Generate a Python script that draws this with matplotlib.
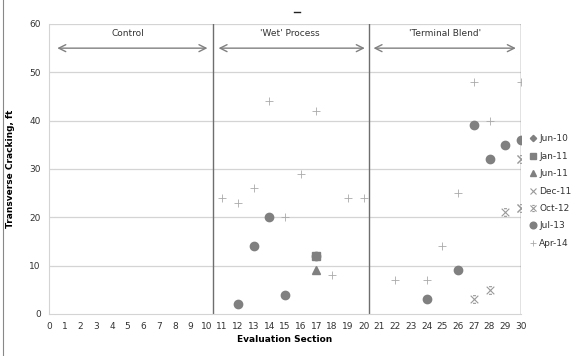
import matplotlib
matplotlib.use('Agg')
import matplotlib.pyplot as plt
from matplotlib.path import Path
from matplotlib.lines import Line2D

# series data (section, cracking ft)
jun10_x, jun10_y = [], []
jan11_x, jan11_y = [17], [12]
jun11_x, jun11_y = [17], [9]
dec11_x, dec11_y = [30, 30], [32, 22]
oct12_x, oct12_y = [29, 27, 28, 30, 30], [21, 3, 5, 32, 22]
jul13_x = [12, 13, 14, 15, 17, 24, 26, 27, 28, 29, 30]
jul13_y = [2, 14, 20, 4, 12, 3, 9, 39, 32, 35, 36]
apr14_x = [11, 12, 13, 14, 15, 16, 17, 18, 19, 20, 22, 24, 25, 26, 27, 28, 30]
apr14_y = [24, 23, 26, 44, 20, 29, 42, 8, 24, 24, 7, 7, 14, 25, 48, 40, 48]

dividers = [10.4, 20.35, 30]
sections = ["Control", "'Wet' Process", "'Terminal Blend'"]
section_spans = [(0.35, 10.25), (10.6, 20.25), (20.45, 29.85)]
section_label_x = [5, 15.3, 25.2]

# x with short bars on top and bottom, like Excel's star marker
star = Path([(-1, -1), (1, 1), (-1, 1), (1, -1), (-0.4, 1), (0.4, 1), (-0.4, -1), (0.4, -1)],
            [Path.MOVETO, Path.LINETO, Path.MOVETO, Path.LINETO,
             Path.MOVETO, Path.LINETO, Path.MOVETO, Path.LINETO])

fig = plt.figure(figsize=(5.81, 3.56), dpi=100)
ax = fig.add_axes([0.0843, 0.118, 0.8124, 0.8146])

for v in range(10, 61, 10):
    ax.axhline(v, color='#d4d4d4', lw=0.9, zorder=0)
for d in dividers:
    ax.axvline(d, color='#6e6e6e', lw=1.0, zorder=1)

for (a, b), name, lx in zip(section_spans, sections, section_label_x):
    ax.annotate('', xy=(a, 55), xytext=(b, 55),
                arrowprops=dict(arrowstyle='<->,head_length=0.5,head_width=0.25',
                                color='#808080', lw=1.0))
    ax.text(lx, 58, name, ha='center', va='center', fontsize=6.5, color='#333333')

g = '#808080'
ax.plot(jun10_x, jun10_y, 'D', ms=4, color=g, ls='none', label='Jun-10')
ax.plot(jan11_x, jan11_y, 's', ms=5.5, color=g, ls='none', label='Jan-11')
ax.plot(jun11_x, jun11_y, '^', ms=5.5, color=g, ls='none', label='Jun-11')
ax.plot(dec11_x, dec11_y, 'x', ms=6, mew=0.8, color='#999999', ls='none', label='Dec-11')
ax.plot(oct12_x, oct12_y, marker=star, ms=5.5, mew=0.8, color='#999999', ls='none', label='Oct-12')
ax.plot(jul13_x, jul13_y, 'o', ms=6, color=g, ls='none', label='Jul-13')
ax.plot(apr14_x, apr14_y, '+', ms=6, mew=0.6, color='#aaaaaa', ls='none', label='Apr-14')

ax.set_xlim(0, 30)
ax.set_ylim(0, 60)
ax.set_xticks(range(0, 31))
ax.set_yticks(range(0, 61, 10))
ax.tick_params(labelsize=6.5, colors='#333333', length=0, pad=6)
for s in ['top', 'right']:
    ax.spines[s].set_visible(False)
ax.spines['left'].set_color('#d4d4d4')
ax.spines['bottom'].set_color('#d4d4d4')

ax.set_xlabel('Evaluation Section', fontsize=6.5, fontweight='bold', labelpad=3)
ax.set_ylabel('Transverse Cracking, ft', fontsize=6.5, fontweight='bold', labelpad=10)

ax.legend(loc='upper left', bbox_to_anchor=(1.0, 0.647), frameon=False, fontsize=6.5,
          handlelength=0.8, handletextpad=0.3, labelspacing=0.93, markerscale=0.8,
          labelcolor='#333333')

# frame edge on the left and stray mark at the top of the source image
fig.add_artist(Line2D([3 / 581, 3 / 581], [0, 1], color='#888888', lw=0.8))
fig.add_artist(Line2D([294 / 581, 300 / 581], [1 - 12 / 356, 1 - 12 / 356], color='#222222', lw=1.0))

fig.savefig('out.png', dpi=100)
